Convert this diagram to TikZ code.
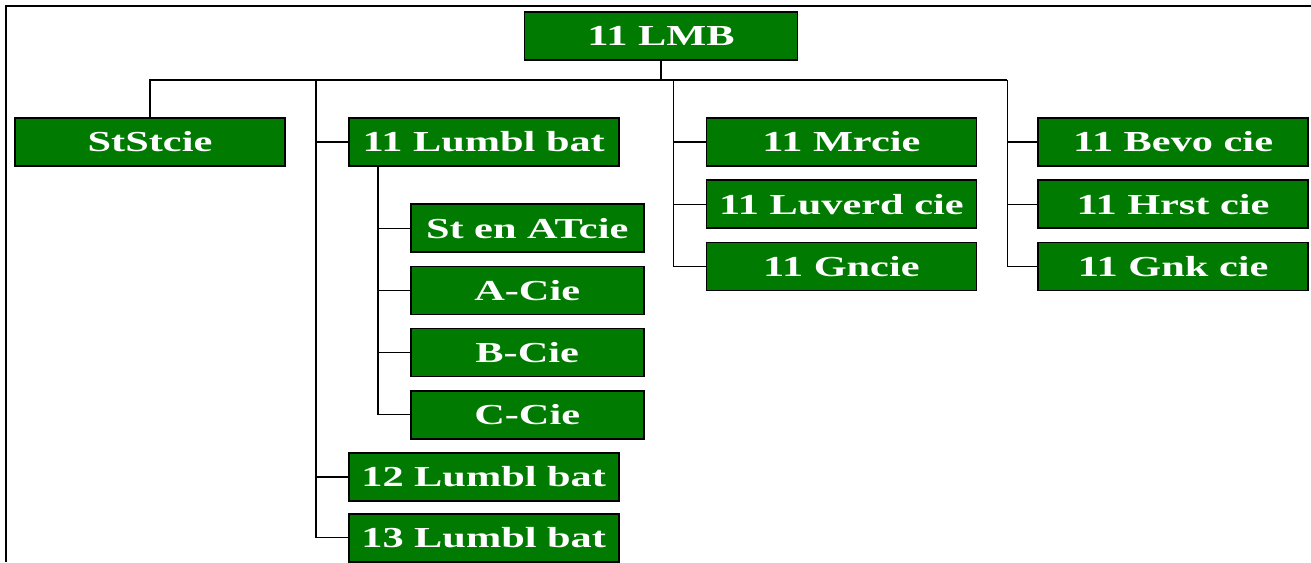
\documentclass[tikz,border=0pt]{standalone}
\usepackage{fontspec}
\newfontfamily\boxfont{Liberation Serif}[FakeStretch=1.46]
\usetikzlibrary{positioning,calc}
\definecolor{unitgreen}{RGB}{0,122,0}
\tikzset{
    %Define style for boxes
    unit/.style={
           rectangle,
           fill=unitgreen,
           draw=black, line width=1.7pt,
           minimum width=270pt,
           minimum height=48pt,
           inner sep=0pt,
           text=white,
           font=\boxfont\bfseries\fontsize{29}{31}\selectfont,
           text centered},
    subunit/.style={unit, minimum width=233pt},
    % Define line style
    link/.style={
           line width=1.3pt}
}
\begin{document}
\begin{tikzpicture}[x=1pt,y=1pt,node distance=12.5pt,link]
\useasboundingbox (0,0) rectangle (1311,-562);
% frame
\draw[line width=1.5pt] (6,-562) -- (6,-6) -- (1311,-6);
 %nodes
\node[unit, minimum width=273pt](lmb) at (661,-36){11 LMB};
\node[unit](ststcie) at (150,-142){StStcie};
\node[unit, right=62pt of ststcie](lumbl){11 Lumbl bat};
\node[subunit, below right=36.5pt and 62pt of lumbl.south west](stat){St en ATcie};
\node[subunit, below=of stat](acie){A-Cie};
\node[subunit, below=of acie](bcie){B-Cie};
\node[subunit, below=of bcie](ccie){C-Cie};
\node[unit, below right=12.5pt and -62pt of ccie.south west](lumbltwo){12 Lumbl bat};
\node[unit, below=11pt of lumbltwo](lumblthree){13 Lumbl bat};
\node[unit, right=86pt of lumbl](mrcie){11 Mrcie};
\node[unit, below=of mrcie](luverd){11 Luverd cie};
\node[unit, below=of luverd](gncie){11 Gncie};
\node[unit, right=60pt of mrcie](bevo){11 Bevo cie};
\node[unit, below=of bevo](hrst){11 Hrst cie};
\node[unit, below=of hrst](gnk){11 Gnk cie};

 %connectors
\coordinate (bus) at (0,-80);
\coordinate (tlumbl) at ($(lumbl.west)+(-32pt,0)$);
\coordinate (tmrcie) at ($(mrcie.west)+(-32pt,0)$);
\coordinate (tbevo) at ($(bevo.west)+(-30pt,0)$);
\coordinate (tsub) at ($(lumbl.south west)+(30pt,0)$);

\draw (lmb.south) -- (lmb.south |- bus);
\draw (ststcie.north) |- (tbevo |- bus);
\draw (tlumbl |- bus) |- (lumblthree.west);
\draw (tmrcie |- bus) |- (gncie.west);
\draw (tbevo |- bus) |- (gnk.west);
\draw (tsub) |- (ccie.west);
\foreach \t/\n in {tlumbl/lumbl,tlumbl/lumbltwo,tmrcie/mrcie,tmrcie/luverd,
                   tbevo/bevo,tbevo/hrst,tsub/stat,tsub/acie,tsub/bcie}
  \draw (\t |- \n.west) -- (\n.west);

\end{tikzpicture}
\end{document}
